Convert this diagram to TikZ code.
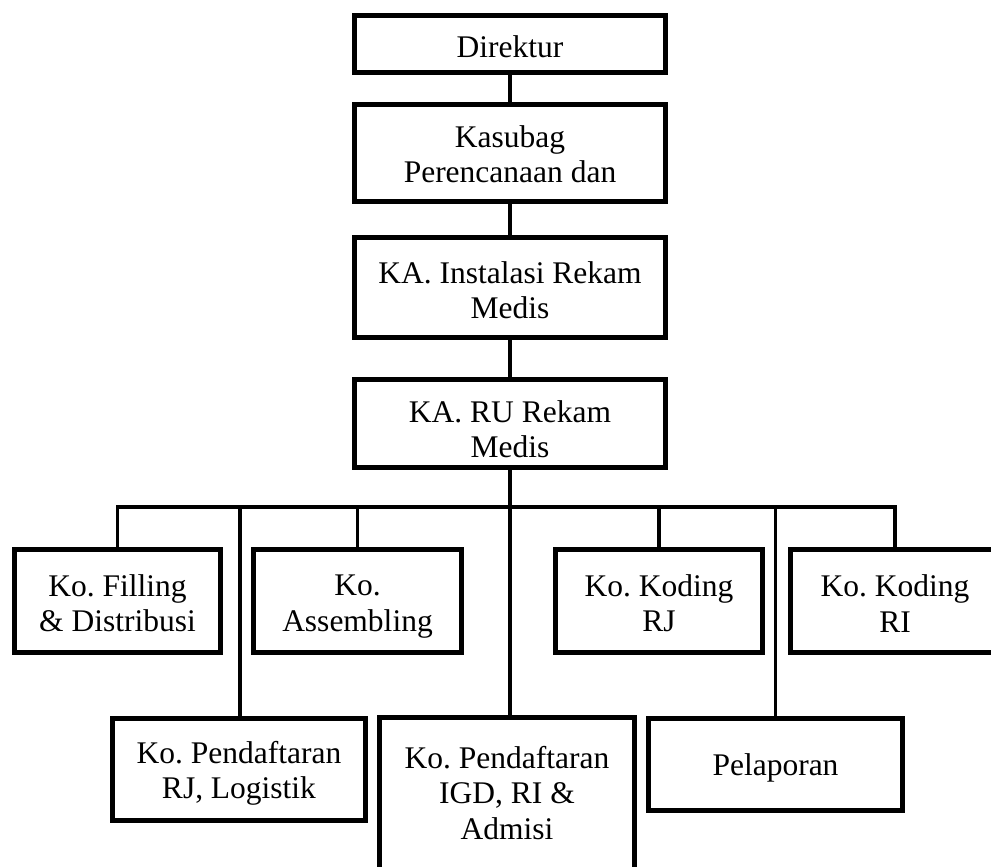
\documentclass[tikz,border=0pt]{standalone}
\usepackage{fontspec}
\setmainfont{Liberation Serif}
\frenchspacing
\newcommand\tstr[1]{\rule{0pt}{#1pt}}
\newcommand\bstr{\rule[-9pt]{0pt}{9pt}}
\begin{document}
\begin{tikzpicture}[x=1pt,y=-1pt,
  box/.style={draw=black, line width=5pt, fill=white, inner sep=0pt, align=center,
    font=\fontsize{31.5}{35.5}\selectfont},
  conn/.style={draw=black, line width=3.8pt}]
\useasboundingbox (0,0) rectangle (991,867);
\clip (0,0) rectangle (991,867);
% top chain
\node[box, minimum width=311pt, minimum height=57pt] (dir) at (510,44) {\tstr{37}Direktur\bstr};
\node[box, minimum width=311pt, minimum height=97pt] (kas) at (510,152.5) {\tstr{33.5}Kasubag\\Perencanaan dan\bstr};
\node[box, minimum width=311pt, minimum height=100pt] (ins) at (510,287.5) {\tstr{35.5}KA. Instalasi Rekam\\Medis\bstr};
\node[box, minimum width=311pt, minimum height=88pt] (ru) at (510,423.5) {\tstr{41.5}KA. RU Rekam\\Medis\bstr};
% upper row
\node[box, minimum width=206pt, minimum height=103pt] (fil) at (117.5,601) {\tstr{34.5}Ko. Filling\\\& Distribusi\bstr};
\node[box, minimum width=208pt, minimum height=103pt] (asm) at (357.5,601) {\tstr{33.5}Ko.\\Assembling\bstr};
\node[box, minimum width=207pt, minimum height=103pt] (krj) at (659,601) {\tstr{34.5}Ko. Koding\\RJ\bstr};
\node[box, minimum width=210pt, minimum height=103pt] (kri) at (895,601) {\tstr{36}Ko. Koding\\RI\bstr};
% lower row
\node[box, minimum width=253pt, minimum height=102pt] (prj) at (239,769.5) {\tstr{31.5}Ko. Pendaftaran\\RJ, Logistik\bstr};
\node[box, minimum width=255pt, minimum height=158pt] (igd) at (507,796.5) {\tstr{23}Ko. Pendaftaran\\IGD, RI \&\\Admisi\bstr};
\node[box, minimum width=254pt, minimum height=92pt] (pel) at (775.5,764.5) {\tstr{30}Pelaporan\bstr};
% connectors
\coordinate (bus) at (510,507);
\draw[conn] (dir.south) -- (kas.north);
\draw[conn] (kas.south) -- (ins.north);
\draw[conn] (ins.south) -- (ru.north);
\draw[conn] (ru.south) -- (ru.south |- igd.north);
\draw[conn, line join=miter] (fil.north) |- (bus) -| (kri.north);
\draw[conn] (asm.north) -- (asm.north |- bus);
\draw[conn] (krj.north) -- (krj.north |- bus);
\draw[conn] ([xshift=1pt]prj.north) -- ([xshift=1pt]prj.north |- bus);
\draw[conn] (pel.north) -- (pel.north |- bus);
\end{tikzpicture}
\end{document}
